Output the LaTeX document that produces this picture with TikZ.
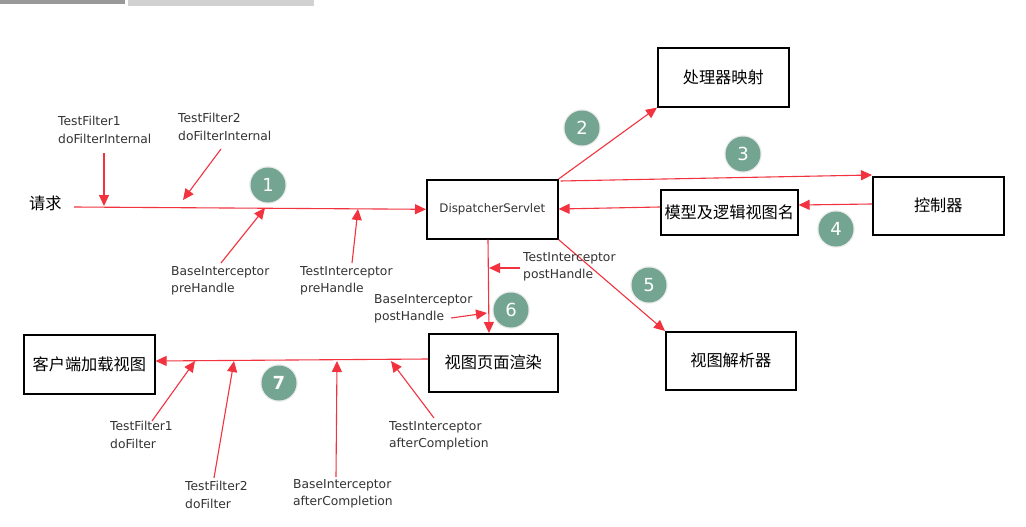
\documentclass[tikz,border=0pt]{standalone}
\usepackage{fontspec}
\setmainfont{DejaVu Sans}
\newfontfamily\cjk{Noto Sans CJK SC}
\usetikzlibrary{arrows.meta}
\definecolor{arrred}{HTML}{F2333F}
\definecolor{numgreen}{HTML}{73A592}
\definecolor{labgrey}{HTML}{333333}
\begin{document}
\begin{tikzpicture}[x=1pt,y=-1pt,
  box/.style={draw=black,line width=1.6pt,inner sep=0pt,anchor=north west},
  cn/.style={font=\cjk\fontsize{16.2}{18}\selectfont,text=black},
  lab/.style={font=\fontsize{12.3}{17.5}\selectfont,text=labgrey,align=left,anchor=north west,inner sep=0pt},
  ar/.style={draw=arrred,line width=1.1pt,-{Triangle[length=11pt,width=10pt]}},
  num/.style={circle,fill=numgreen,minimum size=35pt,inner sep=0pt,text=white,
     font=\rmfamily\fontsize{18}{18}\selectfont,
     preaction={draw=black!8,line width=2.5pt}}]
\useasboundingbox[fill=white] (0,0) rectangle (1026,527);
% watermark fragment at the top
\fill[black!18] (128,0) rectangle (314,6);
\fill[black!40] (0,0) rectangle (125,4);

% boxes
\node[box,minimum width=131pt,minimum height=59pt] (ds) at (426,179) {};
\node[font=\fontsize{11.8}{14}\selectfont,text=labgrey] at (ds.center) {DispatcherServlet};
\node[box,minimum width=131pt,minimum height=59pt] (hm) at (657,47) {};
\node[cn] at (hm.center) {处理器映射};
\node[box,minimum width=131pt,minimum height=58pt] (ctl) at (872,176) {};
\node[cn] at (ctl.center) {控制器};
\node[box,minimum width=137pt,minimum height=45pt] (mv) at (660,189) {};
\node[cn] at (mv.center) {模型及逻辑视图名};
\node[box,minimum width=130pt,minimum height=58pt] (vr) at (665,331) {};
\node[cn] at (vr.center) {视图解析器};
\node[box,minimum width=129pt,minimum height=58pt] (vp) at (428,333) {};
\node[cn] at (vp.center) {视图页面渲染};
\node[box,minimum width=131pt,minimum height=59pt] (cl) at (23,334) {};
\node[cn] at (cl.center) {客户端加载视图};

\node[cn,anchor=west,inner sep=0pt] (req) at (29,203) {请求};

% coordinates for free ends
\coordinate (rs) at (74,207);
\coordinate (f1s) at (104,153);
\coordinate (f1e) at (104,206);
\coordinate (f2s) at (221,149);
\coordinate (f2e) at (183,200);
\coordinate (b1s) at (221,263);
\coordinate (b1e) at (265,208);
\coordinate (t1s) at (352,263);
\coordinate (t1e) at (358,209);
\coordinate (tps) at (520,268);
\coordinate (tpe) at (489,268);
\coordinate (bps) at (451,318);
\coordinate (bpe) at (487,313);
\coordinate (df1s) at (152,421);
\coordinate (df1e) at (195,361);
\coordinate (df2s) at (214,478);
\coordinate (df2e) at (234,361);
\coordinate (bas) at (336,477);
\coordinate (bae) at (337,361);
\coordinate (tas) at (434,418);
\coordinate (tae) at (391,361);

% main flow
\draw[ar] (rs) -- (ds.west);
\draw[ar] (ds.north east) -- (hm.south west);
\draw[ar] ([xshift=2pt,yshift=-2pt]ds.north east) -- ([yshift=1pt]ctl.north west);
\draw[ar] ([yshift=-28pt]ctl.north west) -- ([yshift=-16pt]mv.north east);
\draw[ar] ([yshift=-18pt]mv.north west) -- ([yshift=-30pt]ds.north east);
\draw[ar] (ds.south east) -- (vr.north west);
\draw[ar] ([xshift=62pt]ds.south west) -- ([xshift=61pt]vp.north west);
\draw[ar] ([yshift=-26pt]vp.north west) -- ([yshift=-27pt]cl.north east);

% interceptor / filter arrows
\draw[ar] (f1s) -- (f1e);
\draw[ar] (f2s) -- (f2e);
\draw[ar] (b1s) -- (b1e);
\draw[ar] (t1s) -- (t1e);
\draw[ar] (tps) -- (tpe);
\draw[ar] (bps) -- (bpe);
\draw[ar] (df1s) -- (df1e);
\draw[ar] (df2s) -- (df2e);
\draw[ar] (bas) -- (bae);
\draw[ar] (tas) -- (tae);

% labels
\node[lab] (l1) at (58,116) {TestFilter1\\doFilterInternal};
\node[lab] (l2) at (178,113) {TestFilter2\\doFilterInternal};
\node[lab] (l3) at (171,266) {BaseInterceptor\\preHandle};
\node[lab] (l4) at (300,266) {TestInterceptor\\preHandle};
\node[lab] (l5) at (523,252) {TestInterceptor\\postHandle};
\node[lab] (l6) at (374,294) {BaseInterceptor\\postHandle};
\node[lab] (l7) at (110,421) {TestFilter1\\doFilter};
\node[lab] (l8) at (185,481) {TestFilter2\\doFilter};
\node[lab] (l9) at (293,479) {BaseInterceptor\\afterCompletion};
\node[lab] (l10) at (389,421) {TestInterceptor\\afterCompletion};

% numbered circles
\node[num] (n1) at (268,185) {1};
\node[num] (n2) at (582,128) {2};
\node[num] (n3) at (743,154) {3};
\node[num] (n4) at (836,229) {4};
\node[num] (n5) at (649,285) {5};
\node[num] (n6) at (511,310) {6};
\node[num,font=\rmfamily\bfseries\fontsize{18}{18}\selectfont] (n7) at (279,383) {7};
\end{tikzpicture}
\end{document}
